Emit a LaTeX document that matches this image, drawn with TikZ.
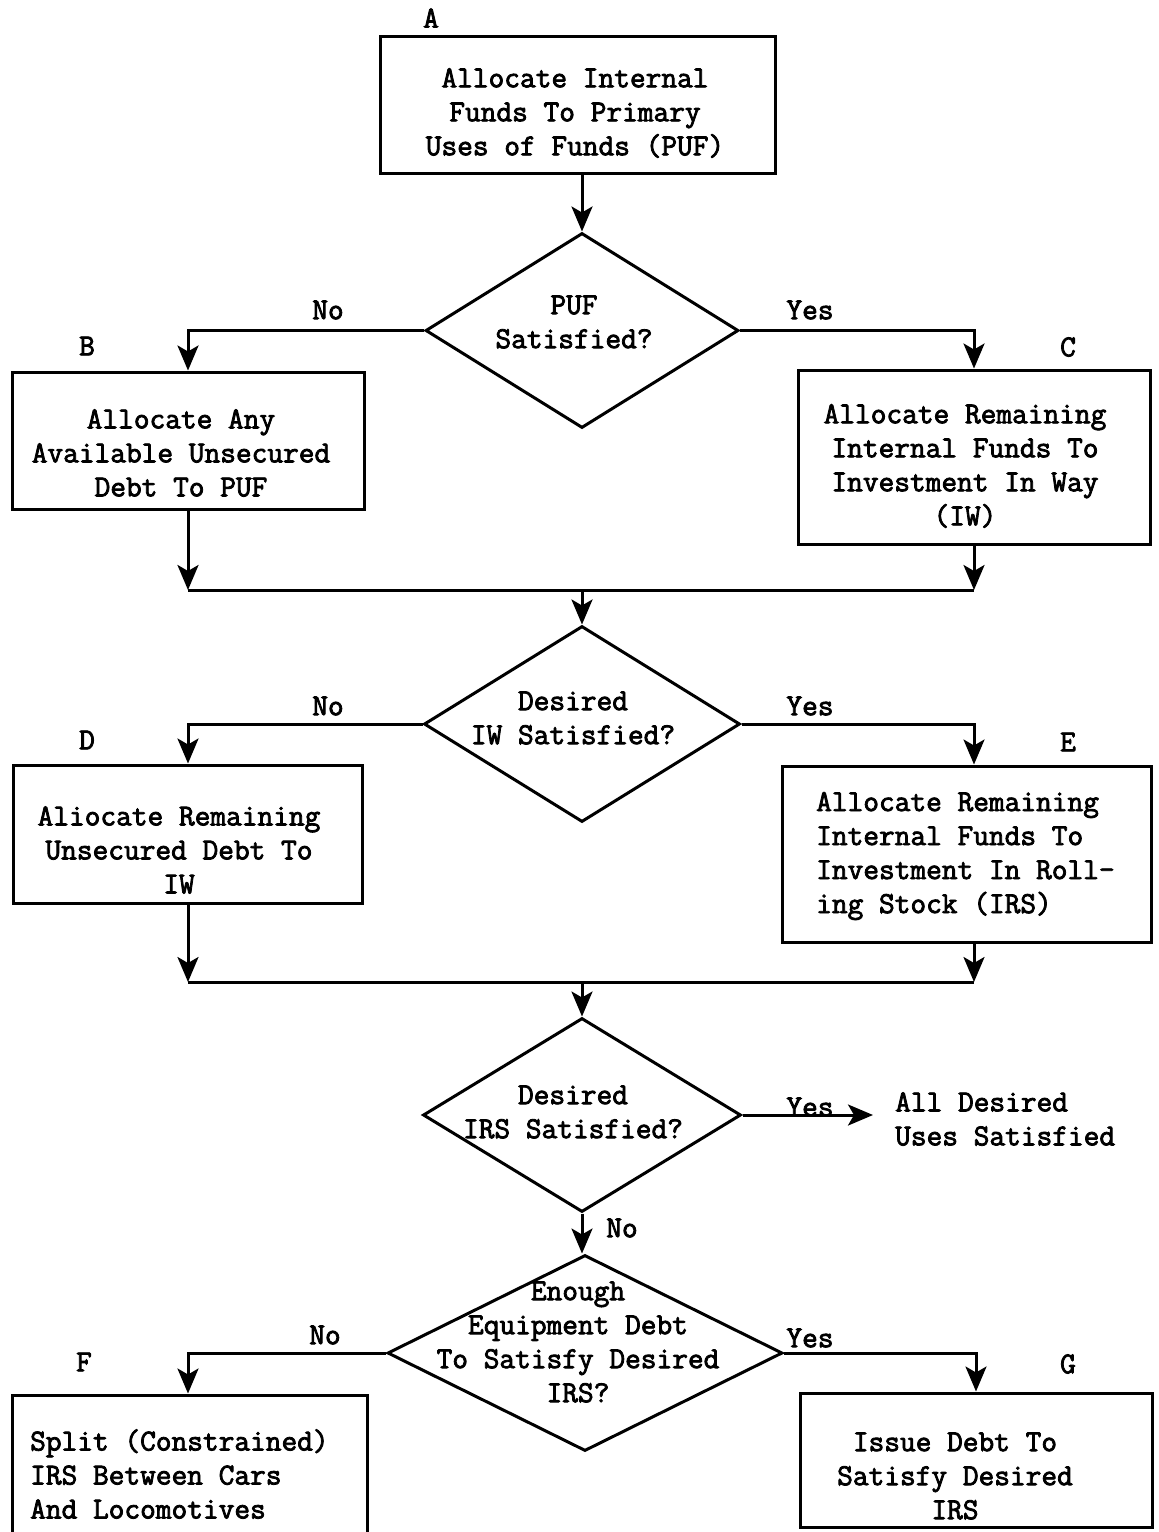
\documentclass[tikz,border=0pt]{standalone}
\usepackage{fontspec}
\usetikzlibrary{arrows.meta,shapes.geometric}
\newfontfamily\tyf{Latin Modern Mono}[FakeBold=2.6]
\newcommand\tfont{\fontsize{30.5}{34}\selectfont\tyf}
\begin{document}
\begin{tikzpicture}[x=1pt,y=-1pt,
  box/.style={draw, line width=3pt, rectangle, inner sep=0pt},
  dia/.style={draw, line width=3pt, diamond, inner sep=0pt},
  txt/.style={align=center, inner sep=0pt, font=\tfont},
  ltxt/.style={align=left, inner sep=0pt, font=\tfont},
  lbl/.style={inner sep=0pt, font=\tfont},
  link/.style={line width=3pt},
  arr/.style={line width=3pt, -{Stealth[length=25pt,width=21pt,inset=6pt]}}]
\useasboundingbox[fill=white] (0,0) rectangle (1159,1532);

% boxes
\node[box, minimum width=395pt, minimum height=137pt] (A) at (578,105) {};
\node[box, minimum width=352pt, minimum height=137pt] (B) at (188,440.5) {};
\node[box, minimum width=352pt, minimum height=174pt] (C) at (974,457) {};
\node[box, minimum width=349pt, minimum height=138pt] (D) at (188,834) {};
\node[box, minimum width=369pt, minimum height=176pt] (E) at (967,854) {};
\node[box, minimum width=355pt, minimum height=160pt] (F) at (190,1475) {};
\node[box, minimum width=352pt, minimum height=134pt] (G) at (976,1460) {};

% diamonds
\node[dia, minimum width=313pt, minimum height=195pt] (D1) at (582,330.5) {};
\node[dia, minimum width=316pt, minimum height=196pt] (D2) at (582,724) {};
\node[dia, minimum width=318pt, minimum height=194pt] (D3) at (582,1115) {};
\node[dia, minimum width=395pt, minimum height=196pt] (D4) at (585,1353) {};

% box texts
\node[txt] (At) at (575,113) {Allocate Internal\\Funds To Primary\\Uses of Funds (PUF)};
\node[txt] (Bt) at (181,453) {Allocate Any\\Available Unsecured\\Debt To PUF};
\node[txt] (Ct) at (965,466) {Allocate Remaining\\Internal Funds To\\Investment In Way\\(IW)};
\node[txt] (Dt) at (179,850) {Aliocate Remaining\\Unsecured Debt To\\IW};
\node[ltxt, anchor=west] (Et) at (816,856) {Allocate Remaining\\Internal Funds To\\Investment In Roll-\\ing Stock (IRS)};
\node[ltxt, anchor=west] (Ft) at (30,1474) {Split (Constrained)\\IRS Between Cars\\And Locomotives};
\node[txt] (Gt) at (955,1476) {Issue Debt To\\Satisfy Desired\\IRS};

% diamond texts
\node[txt] (D1t) at (574,322) {PUF\\Satisfied?};
\node[txt] (D2t) at (573,718) {Desired\\IW Satisfied?};
\node[txt] (D3t) at (573,1112) {Desired\\IRS Satisfied?};
\node[txt] (D4t) at (578,1342) {Enough\\Equipment Debt\\To Satisfy Desired\\IRS?};

% end text
\node[ltxt, anchor=west, inner xsep=22pt] (End) at (873,1119) {All Desired\\Uses Satisfied};

% letters
\node[lbl] (LA) at (431,18) {A};
\node[lbl] (LB) at (87,346) {B};
\node[lbl] (LC) at (1068,347) {C};
\node[lbl] (LD) at (87,740) {D};
\node[lbl] (LE) at (1068,742) {E};
\node[lbl] (LF) at (84,1362) {F};
\node[lbl] (LG) at (1068,1364) {G};

% yes / no
\node[lbl] (N1) at (328,310) {No};
\node[lbl] (Y1) at (810,310) {Yes};
\node[lbl] (N2) at (328,706) {No};
\node[lbl] (Y2) at (810,706) {Yes};
\node[lbl] (Y3) at (810,1107) {Yes};
\node[lbl] (N3) at (622,1228) {No};
\node[lbl] (N4) at (325,1335) {No};
\node[lbl] (Y4) at (810,1338) {Yes};

% junctions
\coordinate (J1) at (582,590);
\coordinate (J2) at (582,982);

% connectors
\draw[arr] (A.south -| D1.north) -- (D1.north);
\draw[arr] (D1.west) -| (B.north);
\draw[arr] (D1.east) -| (C.north);
\draw[arr] (B.south) -- (B.south |- J1);
\draw[arr] (C.south) -- (C.south |- J1);
\draw[link] (B.south |- J1) -- (C.south |- J1);
\draw[arr] (J1) -- (D2.north);

\draw[arr] (D2.west) -| (D.north);
\draw[arr] (D2.east) -| (E.north -| C.north);
\draw[arr] (D.south) -- (D.south |- J2);
\draw[arr] (E.south -| C.north) -- (C.north |- J2);
\draw[link] (D.south |- J2) -- (C.north |- J2);
\draw[arr] (J2) -- (D3.north);

\draw[arr] (D3.east) -- (D3.east -| End.west);
\draw[arr] (D3.south) -- (D3.south |- D4.north);
\draw[arr] (D4.west) -| (F.north -| B.north);
\draw[arr] (D4.east) -| (G.north);
\end{tikzpicture}
\end{document}
